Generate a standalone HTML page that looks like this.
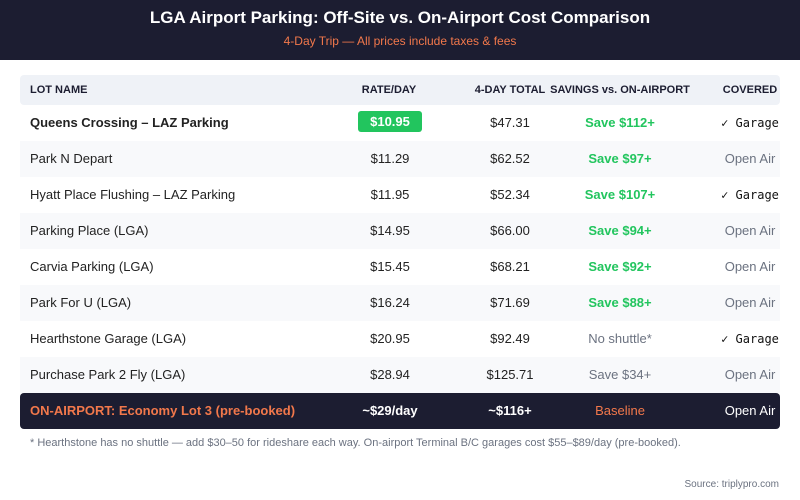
<!DOCTYPE html>
<html><head><meta charset="utf-8"><style>
*{margin:0;padding:0;box-sizing:border-box}
body{width:800px;height:500px;background:#fff;font-family:"Liberation Sans",sans-serif;position:relative;overflow:hidden}
.hd{position:absolute;left:0;top:0;width:800px;height:60px;background:#1c1d31}
.t{position:absolute;left:0;width:800px;text-align:center}
.row{position:absolute;left:20px;width:760px;height:36px}
.c{position:absolute;top:0;height:36px;line-height:36px;font-size:13px;color:#222;white-space:nowrap}
.m{transform:translateX(-50%)}
.g{color:#22c55e;font-weight:bold}
.gr{color:#6b7280}
.oa{color:#6b7280}
.gar{font-family:"DejaVu Sans Mono","Liberation Mono",monospace;font-size:12px;color:#111}
</style></head><body>
<div class="hd"></div>
<div class="t" style="top:8px;font-size:17px;font-weight:bold;color:#fff">LGA Airport Parking: Off-Site vs. On-Airport Cost Comparison</div>
<div class="t" style="top:34px;font-size:12px;color:#f2784b">4-Day Trip — All prices include taxes &amp; fees</div>

<div class="row" style="top:75px;height:30px;background:#eff2f7;border-radius:4px;font-weight:bold">
<div class="c" style="left:10px;height:30px;line-height:30px;font-size:11px;font-weight:bold;color:#1c1d31">LOT NAME</div>
<div class="c m" style="left:369px;height:30px;line-height:30px;font-size:11px;font-weight:bold;color:#1c1d31">RATE/DAY</div>
<div class="c m" style="left:490px;height:30px;line-height:30px;font-size:11px;font-weight:bold;color:#1c1d31">4-DAY TOTAL</div>
<div class="c m" style="left:600px;height:30px;line-height:30px;font-size:11px;font-weight:bold;color:#1c1d31">SAVINGS vs. ON-AIRPORT</div>
<div class="c m" style="left:730px;height:30px;line-height:30px;font-size:11px;font-weight:bold;color:#1c1d31">COVERED</div>
</div>

<div class="row" style="top:105px;background:#fff">
<div class="c" style="left:10px;font-weight:bold">Queens Crossing – LAZ Parking</div>
<div style="position:absolute;left:338px;top:6px;width:64px;height:21px;background:#22c55e;border-radius:3px;color:#fff;font-weight:bold;font-size:13px;text-align:center;line-height:21px">$10.95</div>
<div class="c m" style="left:490px">$47.31</div>
<div class="c m g" style="left:600px">Save $112+</div>
<div class="c m gar" style="left:730px">✓ Garage</div>
</div>

<div class="row" style="top:141px;background:#f8f9fb">
<div class="c" style="left:10px">Park N Depart</div>
<div class="c m" style="left:370px">$11.29</div>
<div class="c m" style="left:490px">$62.52</div>
<div class="c m g" style="left:600px">Save $97+</div>
<div class="c m oa" style="left:730px">Open Air</div>
</div>

<div class="row" style="top:177px;background:#fff">
<div class="c" style="left:10px">Hyatt Place Flushing – LAZ Parking</div>
<div class="c m" style="left:370px">$11.95</div>
<div class="c m" style="left:490px">$52.34</div>
<div class="c m g" style="left:600px">Save $107+</div>
<div class="c m gar" style="left:730px">✓ Garage</div>
</div>

<div class="row" style="top:213px;background:#f8f9fb">
<div class="c" style="left:10px">Parking Place (LGA)</div>
<div class="c m" style="left:370px">$14.95</div>
<div class="c m" style="left:490px">$66.00</div>
<div class="c m g" style="left:600px">Save $94+</div>
<div class="c m oa" style="left:730px">Open Air</div>
</div>

<div class="row" style="top:249px;background:#fff">
<div class="c" style="left:10px">Carvia Parking (LGA)</div>
<div class="c m" style="left:370px">$15.45</div>
<div class="c m" style="left:490px">$68.21</div>
<div class="c m g" style="left:600px">Save $92+</div>
<div class="c m oa" style="left:730px">Open Air</div>
</div>

<div class="row" style="top:285px;background:#f8f9fb">
<div class="c" style="left:10px">Park For U (LGA)</div>
<div class="c m" style="left:370px">$16.24</div>
<div class="c m" style="left:490px">$71.69</div>
<div class="c m g" style="left:600px">Save $88+</div>
<div class="c m oa" style="left:730px">Open Air</div>
</div>

<div class="row" style="top:321px;background:#fff">
<div class="c" style="left:10px">Hearthstone Garage (LGA)</div>
<div class="c m" style="left:370px">$20.95</div>
<div class="c m" style="left:490px">$92.49</div>
<div class="c m gr" style="left:600px">No shuttle*</div>
<div class="c m gar" style="left:730px">✓ Garage</div>
</div>

<div class="row" style="top:357px;background:#f8f9fb">
<div class="c" style="left:10px">Purchase Park 2 Fly (LGA)</div>
<div class="c m" style="left:370px">$28.94</div>
<div class="c m" style="left:490px">$125.71</div>
<div class="c m gr" style="left:600px">Save $34+</div>
<div class="c m oa" style="left:730px">Open Air</div>
</div>

<div class="row" style="top:393px;background:#1c1d31;border-radius:4px">
<div class="c" style="left:10px;font-weight:bold;color:#f2784b">ON-AIRPORT: Economy Lot 3 (pre-booked)</div>
<div class="c m" style="left:370px;color:#fff;font-weight:bold">~$29/day</div>
<div class="c m" style="left:490px;color:#fff;font-weight:bold">~$116+</div>
<div class="c m" style="left:600px;color:#f2784b">Baseline</div>
<div class="c m" style="left:730px;color:#fff">Open Air</div>
</div>

<div style="position:absolute;left:30px;top:437px;font-size:11px;color:#6b7280">* Hearthstone has no shuttle — add $30–50 for rideshare each way. On-airport Terminal B/C garages cost $55–$89/day (pre-booked).</div>
<div style="position:absolute;right:21px;top:479px;font-size:10px;color:#6b7280">Source: triplypro.com</div>
</body></html>
